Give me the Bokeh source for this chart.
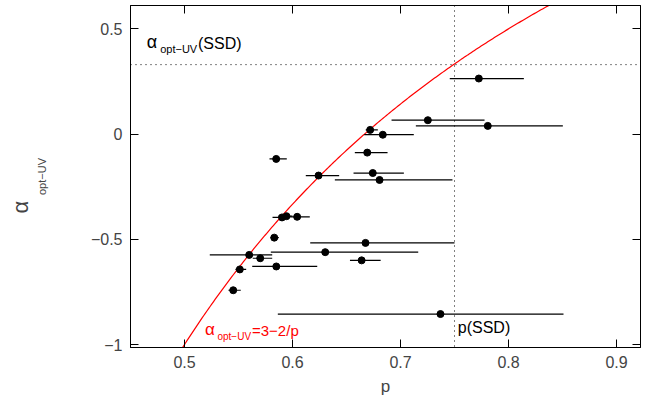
import numpy as np
from bokeh.plotting import figure
from bokeh.models import Range1d, LinearAxis, Span, Label, ColumnDataSource
from bokeh.embed import file_html
from bokeh.resources import INLINE

p_val = [0.7725, 0.7253, 0.7808, 0.6719, 0.6836, 0.6692, 0.5849, 0.6241, 0.6743, 0.6806,
         0.5903, 0.5944, 0.6043, 0.5831, 0.6676, 0.6303, 0.5599, 0.5701, 0.6640, 0.5850,
         0.5512, 0.5451, 0.7370]
p_lo = [0.7456, 0.6917, 0.7142, 0.6678, 0.6664, 0.6577, 0.5787, 0.6123, 0.6565, 0.6392,
        0.5815, 0.5870, 0.5944, 0.5796, 0.6164, 0.5799, 0.5234, 0.5632, 0.6532, 0.5627,
        0.5472, 0.5407, 0.5864]
p_hi = [0.8142, 0.7778, 0.8503, 0.6790, 0.7123, 0.6880, 0.5947, 0.6432, 0.7031, 0.7481,
        0.5944, 0.6000, 0.6160, 0.5873, 0.7500, 0.7164, 0.5812, 0.5812, 0.6816, 0.6229,
        0.5571, 0.5521, 0.8509]
alpha = [0.264, 0.066, 0.039, 0.020, -0.003, -0.088, -0.118, -0.197, -0.185, -0.218,
         -0.396, -0.390, -0.393, -0.492, -0.517, -0.561, -0.574, -0.590, -0.600, -0.629,
         -0.643, -0.742, -0.855]
alpha_ssd = 0.33
p_ssd = 0.75

FONT = "Liberation Sans"
H = 398
p = figure(width=642, height=H, output_backend="svg", toolbar_location=None,
           x_range=Range1d(0.45, 0.9222), y_range=Range1d(-1.014, 0.611),
           min_border_left=130, min_border_right=2, min_border_top=5, min_border_bottom=48)
p.grid.visible = False
p.outline_line_color = "black"

for ax in (p.xaxis[0], p.yaxis[0]):
    ax.major_label_text_font = FONT
    ax.major_label_text_font_size = "16px"
    ax.major_tick_in = 8; ax.major_tick_out = 0
    ax.minor_tick_in = 4; ax.minor_tick_out = 0
    ax.axis_label_text_font = FONT
    ax.axis_label_text_font_style = "normal"
    ax.major_label_standoff = 8
p.xaxis.ticker = [0.5, 0.6, 0.7, 0.8, 0.9]
p.yaxis.ticker = [-1.0, -0.5, 0.0, 0.5]
p.xaxis.axis_label = "p"
p.xaxis.axis_label_text_font_size = "17px"
p.xaxis.axis_label_standoff = 6
p.yaxis.axis_label = "opt−UV"
p.yaxis.axis_label_text_font_size = "11px"
p.yaxis.axis_label_standoff = 40

# outer axis carrying the alpha symbol of the y label
outer = LinearAxis(axis_label="α" + "\u2007" * 5, axis_label_text_font=FONT,
                   axis_label_text_font_size="22px", axis_label_text_font_style="normal",
                   axis_line_color=None, major_tick_line_color=None, minor_tick_line_color=None,
                   major_label_text_font_size="0px", axis_label_standoff=0)
outer.ticker = []
p.add_layout(outer, "left")

top = LinearAxis(major_label_text_font_size="0px", major_tick_in=8, major_tick_out=0,
                 minor_tick_in=4, minor_tick_out=0)
top.ticker = [0.5, 0.6, 0.7, 0.8, 0.9]
p.add_layout(top, "above")
right = LinearAxis(major_label_text_font_size="0px", major_tick_in=8, major_tick_out=0,
                   minor_tick_in=4, minor_tick_out=0)
right.ticker = [-1.0, -0.5, 0.0, 0.5]
p.add_layout(right, "right")

pc = np.linspace(0.49, 0.95, 300)
p.line(pc, 3 - 2 / pc, color="red", line_width=1.2)

p.add_layout(Span(location=alpha_ssd, dimension="width", line_dash="1 4", line_color="black"))
p.add_layout(Span(location=p_ssd, dimension="height", line_dash="1 4", line_color="black"))

src = ColumnDataSource(dict(x=p_val, y=alpha, lo=p_lo, hi=p_hi))
p.segment(x0="lo", x1="hi", y0="y", y1="y", source=src, color="black", line_width=1.2)
p.scatter("x", "y", source=src, size=7, color="black")

def lab(x, y, t, size, color="black", **kw):
    p.add_layout(Label(x=x, y=y, text=t, text_font=FONT, text_font_size=size,
                       text_color=color, **kw))

lab(0.465, 0.39, "α", "18px")
lab(0.4775, 0.375, "opt−UV", "11px")
lab(0.5125, 0.39, "(SSD)", "16px")
lab(0.753, -0.96, "p(SSD)", "16px")
lab(0.519, -0.975, "α", "17px", "red")
lab(0.5305, -0.99, "opt−UV", "10px", "red")
lab(0.5625, -0.975, "=3−2/p", "15px", "red")

open("out.html", "w").write(file_html(p, INLINE))
